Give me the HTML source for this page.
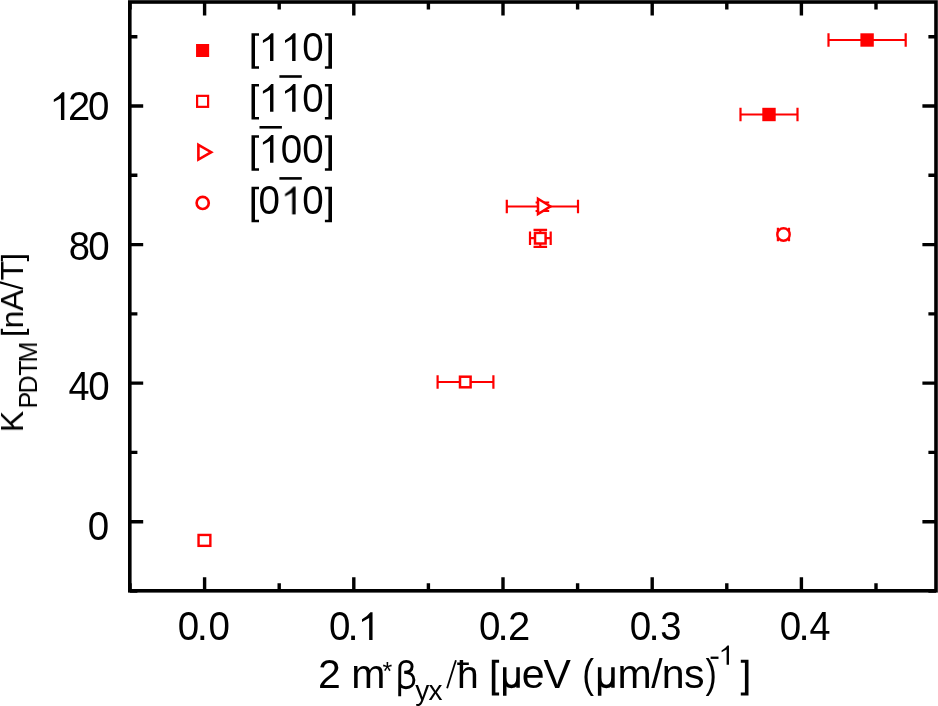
<!DOCTYPE html>
<html><head><meta charset="utf-8"><style>
html,body{margin:0;padding:0;background:#fff;overflow:hidden;}
svg{display:block;}
text{will-change:transform;font-family:"Liberation Sans",sans-serif;fill:#000;}
</style></head><body>
<svg width="938" height="706" viewBox="0 0 938 706">
<rect width="938" height="706" fill="#fff"/>
<path d="M204.60,590.8V577.20M204.60,2.0V15.60M353.80,590.8V577.20M353.80,2.0V15.60M503.00,590.8V577.20M503.00,2.0V15.60M652.20,590.8V577.20M652.20,2.0V15.60M801.40,590.8V577.20M801.40,2.0V15.60M130.00,590.8V583.20M130.00,2.0V9.60M279.20,590.8V583.20M279.20,2.0V9.60M428.40,590.8V583.20M428.40,2.0V9.60M577.60,590.8V583.20M577.60,2.0V9.60M726.80,590.8V583.20M726.80,2.0V9.60M876.00,590.8V583.20M876.00,2.0V9.60M129.8,521.70H143.20M936.0,521.70H922.40M129.8,383.15H143.20M936.0,383.15H922.40M129.8,244.60H143.20M936.0,244.60H922.40M129.8,106.04H143.20M936.0,106.04H922.40M129.8,590.98H137.40M936.0,590.98H928.40M129.8,452.42H137.40M936.0,452.42H928.40M129.8,313.87H137.40M936.0,313.87H928.40M129.8,175.32H137.40M936.0,175.32H928.40M129.8,36.77H137.40M936.0,36.77H928.40" stroke="#000" stroke-width="3.4" fill="none"/>
<rect x="129.8" y="2.0" width="806.2" height="588.8" fill="none" stroke="#000" stroke-width="3.6"/>
<path d="M0.3725,0 L0.2875,0 L0.2875,-0.545 L0.109,-0.45 L0.109,-0.515 Q0.23,-0.575 0.319,-0.6925 L0.3725,-0.6925 Z" transform="translate(49.44,120.00) scale(40)" fill="#000"/>
<text x="68.09" y="120.00" font-size="40">2</text>
<text transform="translate(88.10,120.00) scale(0.963,1)" font-size="40">0</text>
<text transform="translate(68.84,260.00) scale(0.952,1)" font-size="40">8</text>
<text transform="translate(88.20,260.00) scale(0.963,1)" font-size="40">0</text>
<text transform="translate(68.45,399.70) scale(0.943,1)" font-size="40">4</text>
<text transform="translate(88.20,399.70) scale(0.963,1)" font-size="40">0</text>
<text transform="translate(87.85,540.40) scale(0.963,1)" font-size="40">0</text>
<text transform="translate(177.85,639.90) scale(0.963,1)" font-size="40">0</text>
<text x="196.65" y="639.90" font-size="40">.</text>
<text transform="translate(208.40,639.90) scale(0.963,1)" font-size="40">0</text>
<text transform="translate(328.90,639.90) scale(0.963,1)" font-size="40">0</text>
<text x="347.45" y="639.90" font-size="40">.</text>
<path d="M0.3725,0 L0.2875,0 L0.2875,-0.545 L0.109,-0.45 L0.109,-0.515 Q0.23,-0.575 0.319,-0.6925 L0.3725,-0.6925 Z" transform="translate(357.64,639.90) scale(40)" fill="#000"/>
<text transform="translate(478.90,639.90) scale(0.963,1)" font-size="40">0</text>
<text x="497.55" y="639.90" font-size="40">.</text>
<text x="508.10" y="639.90" font-size="40">2</text>
<text transform="translate(629.80,639.90) scale(0.963,1)" font-size="40">0</text>
<text x="648.55" y="639.90" font-size="40">.</text>
<text transform="translate(660.35,639.90) scale(0.953,1)" font-size="40">3</text>
<text transform="translate(779.80,639.90) scale(0.963,1)" font-size="40">0</text>
<text x="798.55" y="639.90" font-size="40">.</text>
<text transform="translate(809.53,639.90) scale(0.943,1)" font-size="40">4</text>
<path d="M0.3725,0 L0.2875,0 L0.2875,-0.545 L0.109,-0.45 L0.109,-0.515 Q0.23,-0.575 0.319,-0.6925 L0.3725,-0.6925 Z" transform="translate(258.54,60.90) scale(40)" fill="#000"/>
<path d="M0.3725,0 L0.2875,0 L0.2875,-0.545 L0.109,-0.45 L0.109,-0.515 Q0.23,-0.575 0.319,-0.6925 L0.3725,-0.6925 Z" transform="translate(280.64,60.90) scale(40)" fill="#000"/>
<text transform="translate(302.30,60.90) scale(0.963,1)" font-size="40">0</text>
<path d="M251.50,33.30H255.00V68.80H251.50ZM251.50,33.30H259.00V35.80H251.50ZM251.50,66.30H259.00V68.80H251.50Z" fill="#000"/>
<path d="M328.40,33.30H332.00V68.80H328.40ZM324.90,33.30H332.00V35.80H324.90ZM324.90,66.30H332.00V68.80H324.90Z" fill="#000"/>
<path d="M0.3725,0 L0.2875,0 L0.2875,-0.545 L0.109,-0.45 L0.109,-0.515 Q0.23,-0.575 0.319,-0.6925 L0.3725,-0.6925 Z" transform="translate(258.54,111.70) scale(40)" fill="#000"/>
<path d="M0.3725,0 L0.2875,0 L0.2875,-0.545 L0.109,-0.45 L0.109,-0.515 Q0.23,-0.575 0.319,-0.6925 L0.3725,-0.6925 Z" transform="translate(280.64,111.70) scale(40)" fill="#000"/>
<text transform="translate(302.30,111.70) scale(0.963,1)" font-size="40">0</text>
<path d="M251.50,84.10H255.00V119.60H251.50ZM251.50,84.10H259.00V86.60H251.50ZM251.50,117.10H259.00V119.60H251.50Z" fill="#000"/>
<path d="M328.40,84.10H332.00V119.60H328.40ZM324.90,84.10H332.00V86.60H324.90ZM324.90,117.10H332.00V119.60H324.90Z" fill="#000"/>
<rect x="279.40" y="75.20" width="22.4" height="2.6" fill="#000"/>
<path d="M0.3725,0 L0.2875,0 L0.2875,-0.545 L0.109,-0.45 L0.109,-0.515 Q0.23,-0.575 0.319,-0.6925 L0.3725,-0.6925 Z" transform="translate(258.54,162.80) scale(40)" fill="#000"/>
<text transform="translate(280.70,162.80) scale(0.963,1)" font-size="40">0</text>
<text transform="translate(302.30,162.80) scale(0.963,1)" font-size="40">0</text>
<path d="M251.50,135.20H255.00V170.70H251.50ZM251.50,135.20H259.00V137.70H251.50ZM251.50,168.20H259.00V170.70H251.50Z" fill="#000"/>
<path d="M328.40,135.20H332.00V170.70H328.40ZM324.90,135.20H332.00V137.70H324.90ZM324.90,168.20H332.00V170.70H324.90Z" fill="#000"/>
<rect x="259.50" y="126.00" width="22.4" height="2.6" fill="#000"/>
<text transform="translate(258.60,214.40) scale(0.963,1)" font-size="40">0</text>
<path d="M0.3725,0 L0.2875,0 L0.2875,-0.545 L0.109,-0.45 L0.109,-0.515 Q0.23,-0.575 0.319,-0.6925 L0.3725,-0.6925 Z" transform="translate(280.64,214.40) scale(40)" fill="#000"/>
<text transform="translate(302.30,214.40) scale(0.963,1)" font-size="40">0</text>
<path d="M251.50,186.80H255.00V222.30H251.50ZM251.50,186.80H259.00V189.30H251.50ZM251.50,219.80H259.00V222.30H251.50Z" fill="#000"/>
<path d="M328.40,186.80H332.00V222.30H328.40ZM324.90,186.80H332.00V189.30H324.90ZM324.90,219.80H332.00V222.30H324.90Z" fill="#000"/>
<rect x="279.40" y="177.10" width="22.4" height="2.6" fill="#000"/>
<rect x="196.05" y="44.00" width="13.1" height="13" fill="#ff0000"/>
<rect x="197.10" y="95.85" width="11" height="11" fill="#fff" stroke="#ff0000" stroke-width="2.2"/>
<path d="M198.4,144.8L211.2,152.2L198.4,159.6Z" fill="#fff" stroke="#ff0000" stroke-width="2.6"/>
<circle cx="202.7" cy="202.9" r="6.07" fill="#fff" stroke="#ff0000" stroke-width="2.65"/>
<path d="M828.5,40.0H905.7M828.5,33.2V46.8M905.7,33.2V46.8M740.5,114.5H797.5M740.5,107.7V121.3M797.5,107.7V121.3M506.8,206.5H578.0M506.8,199.7V213.3M578.0,199.7V213.3M542.4,202.5V211.0M535.6,202.5H549.1999999999999M535.6,211.0H549.1999999999999M530.0,238.2H550.7M530.0,231.39999999999998V245.0M550.7,231.39999999999998V245.0M540.3,229.8V246.8M533.5,229.8H547.0999999999999M533.5,246.8H547.0999999999999M777.9,234.5H789.0M777.9,227.7V241.3M789.0,227.7V241.3M437.6,382.0H493.4M437.6,375.2V388.8M493.4,375.2V388.8" stroke="#ff0000" stroke-width="2.2" fill="none"/>
<rect x="860.40" y="33.30" width="13.4" height="13.4" fill="#ff0000"/>
<rect x="762.30" y="107.80" width="13.4" height="13.4" fill="#ff0000"/>
<path d="M538,198.7L550.5,206.4L538,214.1Z" fill="#fff" stroke="#ff0000" stroke-width="2.5"/>
<rect x="535.00" y="232.90" width="10.6" height="10.6" fill="#fff" stroke="#ff0000" stroke-width="2.5"/>
<rect x="460.00" y="376.70" width="10.6" height="10.6" fill="#fff" stroke="#ff0000" stroke-width="2.5"/>
<rect x="198.55" y="534.95" width="11.8" height="10.9" fill="#fff" stroke="#ff0000" stroke-width="2.4"/>
<circle cx="783.5" cy="234.5" r="6.2" fill="#fff" stroke="#ff0000" stroke-width="2.4"/>
<text x="317.94" y="688.40" font-size="41">2</text>
<text x="351.28" y="688.40" font-size="41">m</text>
<text x="521.86" y="688.40" font-size="41">e</text>
<text x="543.42" y="688.40" font-size="41">V</text>
<text x="617.48" y="688.40" font-size="41">m</text>
<text x="651.30" y="688.40" font-size="41">/</text>
<text x="661.68" y="688.40" font-size="41">n</text>
<text x="684.06" y="688.40" font-size="41">s</text>
<text x="382.50" y="680.30" font-size="25">*</text>
<path d="M399.7,696.2L399.8,668C399.8,663.6 402.6,661.4 406.3,661.4C410,661.4 412.1,663.6 412.1,666.6C412.1,670 409.4,672.3 404.2,672.3C410.8,672.3 413.9,675.6 413.9,680C413.9,685 410.4,687.7 406,687.7C403,687.7 401,686.5 399.8,684.4" stroke="#000" stroke-width="2.9" fill="none"/>
<text x="457.11" y="688.00" font-size="39">ħ</text>
<path d="M447.1,688.3L455.9,660.2" stroke="#000" stroke-width="1.8"/>
<text transform="translate(582.20,688.20) scale(0.89,1)" font-size="39.8">(</text>
<text transform="translate(705.50,688.20) scale(0.85,1)" font-size="39.8">)</text>
<path d="M504.75,667.2V695.7M504.75,677.5C504.75,684 507.35,686.4 511.40,686.4C515.65,686.4 518.05,683.8 518.05,677.5M518.05,667.2V687.8" stroke="#000" stroke-width="3.5" fill="none"/>
<path d="M599.65,667.2V695.7M599.65,677.5C599.65,684 602.25,686.4 606.30,686.4C610.55,686.4 612.95,683.8 612.95,677.5M612.95,667.2V687.8" stroke="#000" stroke-width="3.5" fill="none"/>
<path d="M491.80,659.80H495.40V695.50H491.80ZM491.80,659.80H499.10V662.70H491.80ZM491.80,692.60H499.10V695.50H491.80Z" fill="#000"/>
<path d="M744.90,659.80H748.50V695.50H744.90ZM740.80,659.80H748.50V662.70H740.80ZM740.80,692.60H748.50V695.50H740.80Z" fill="#000"/>
<text x="415.33" y="699.90" font-size="28">y</text>
<text x="428.49" y="699.90" font-size="28">x</text>
<rect x="710.6" y="656.6" width="7.9" height="2.3" fill="#000"/>
<path d="M0.3725,0 L0.2875,0 L0.2875,-0.545 L0.109,-0.45 L0.109,-0.515 Q0.23,-0.575 0.319,-0.6925 L0.3725,-0.6925 Z" transform="translate(718.55,664.80) scale(28)" fill="#000"/>
<g transform="translate(23.0,432.2) rotate(-90)"><text x="-0.12" y="0.00" font-size="32">K</text><text x="23.85" y="13.90" font-size="25">P</text><text x="38.65" y="13.90" font-size="25">D</text><text x="56.44" y="13.90" font-size="25">T</text><text x="69.75" y="13.90" font-size="25">M</text><text x="103.68" y="0.00" font-size="32">n</text><text x="121.24" y="0.00" font-size="32">A</text><text x="151.78" y="0.00" font-size="32">T</text></g>
<path d="M22.9,288.7L-1,282.1" stroke="#000" stroke-width="2.0"/>
<path d="M0.80,332.00H29.00V334.70H0.80ZM0.80,328.70H2.90V334.70H0.80ZM27.00,328.70H29.00V334.70H27.00Z" fill="#000"/>
<path d="M0.90,255.30H29.00V257.90H0.90ZM0.90,255.30H2.90V261.20H0.90ZM27.00,255.30H29.00V261.30H27.00Z" fill="#000"/>
</svg>
</body></html>
